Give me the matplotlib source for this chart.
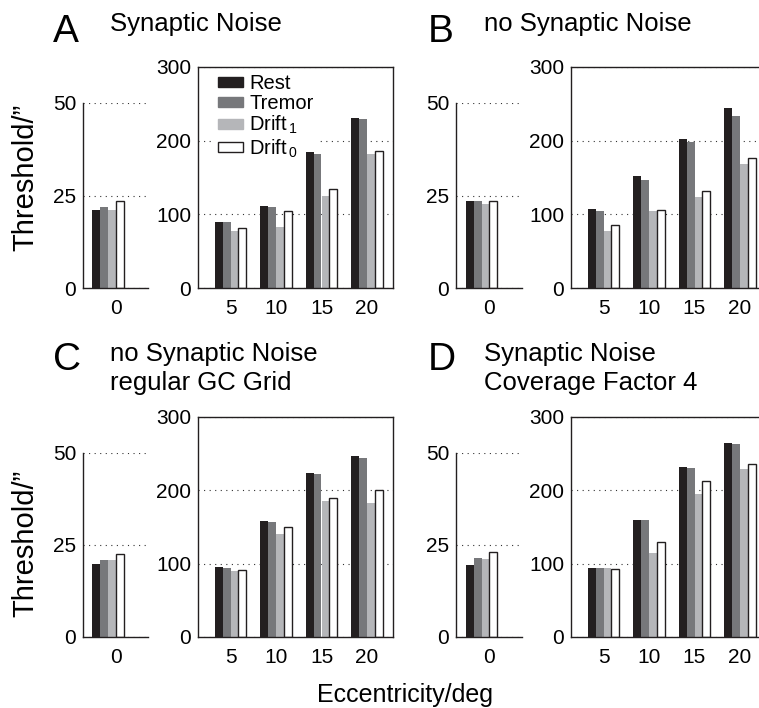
import matplotlib
matplotlib.use("Agg")
import matplotlib.pyplot as plt
from matplotlib.patches import Patch
import numpy as np

plt.rcParams['font.family'] = ['Liberation Sans', 'DejaVu Sans']
plt.rcParams['mathtext.fontset'] = 'custom'
plt.rcParams['mathtext.rm'] = 'Liberation Sans'
plt.rcParams['mathtext.it'] = 'Liberation Sans:italic'
plt.rcParams['mathtext.default'] = 'regular'

# ---------------- data ----------------
series_names = ['Rest', 'Tremor', r'Drift$_{\,1}$', r'Drift$_{\,0}$']
ecc_labels = ['5', '10', '15', '20']
fovea_label = ['0']

A_fovea = [21.0, 21.9, 21.0, 23.4]
A_rest = [89.5, 111, 184.5, 231]
A_tremor = [89.5, 110, 182, 230]
A_drift1 = [78, 83, 125, 182]
A_drift0 = [81, 105, 135, 185.5]

B_fovea = [23.4, 23.4, 22.7, 23.6]
B_rest = [107, 152, 202, 245]
B_tremor = [104, 146, 198, 233]
B_drift1 = [78, 104.5, 123.5, 168]
B_drift0 = [86, 106, 132, 176]

C_fovea = [19.9, 20.9, 20.8, 22.6]
C_rest = [96, 158, 224, 246.5]
C_tremor = [94.2, 156.8, 222.5, 244]
C_drift1 = [90.6, 140.5, 185.8, 183]
C_drift0 = [91, 150.4, 189.9, 200.7]

D_fovea = [19.6, 21.5, 21.2, 23.1]
D_rest = [94.2, 159.5, 231.5, 264]
D_tremor = [94.2, 159.5, 230, 262.7]
D_drift1 = [94.2, 115, 194.8, 229]
D_drift0 = [93.3, 130, 213, 236.5]

panel_letters = ['A', 'B', 'C', 'D']
panel_titles = [['Synaptic Noise'], ['no Synaptic Noise'],
                ['no Synaptic Noise', 'regular GC Grid'],
                ['Synaptic Noise', 'Coverage Factor 4']]
ylabel_text = 'Threshold/\u201d'
xlabel_text = 'Eccentricity/deg'

# ---------------- style ----------------
colors = ['#231f20', '#77787b', '#b5b6b9', 'white']
edges = ['none', 'none', 'none', '#231f20']
W, H = 759, 708
fig = plt.figure(figsize=(W / 100, H / 100), dpi=100)


def rect(left, top, right, bottom):
    return [left / W, 1 - bottom / H, (right - left) / W, (bottom - top) / H]


PX_PER_UNIT = 45.5
bw = 0.174
offsets = (np.arange(4) - 1.5) * bw
TICK_FS = 15
grid_kw = dict(color='#333333', linestyle=(0, (1, 4)), linewidth=0.8)


def style(ax):
    ax.tick_params(length=0, labelsize=TICK_FS)
    ax.tick_params(axis='y', pad=5)
    ax.tick_params(axis='x', pad=8)
    for s in ax.spines.values():
        s.set_linewidth(1.0)
        s.set_color('#231f20')
        s.set_zorder(7)
    ax.set_axisbelow(True)
    ax.yaxis.grid(True, **grid_kw)


def small_axis(pos, fovea):
    ax = fig.add_axes(rect(*pos))
    width_units = (pos[2] - pos[0]) / PX_PER_UNIT
    ax.set_xlim(-width_units / 2, width_units / 2)
    shift = -7.5 / PX_PER_UNIT
    for k in range(4):
        ax.bar(shift + offsets[k], fovea[k], bw, color=colors[k],
               edgecolor=edges[k], linewidth=1.0, zorder=6)
    ax.set_ylim(0, 50)
    ax.set_yticks([0, 25, 50])
    ax.set_xticks([0])
    ax.set_xticklabels(fovea_label)
    ax.spines['top'].set_visible(False)
    ax.spines['right'].set_visible(False)
    style(ax)
    return ax


def big_axis(pos, series):
    ax = fig.add_axes(rect(*pos))
    x = np.arange(1, 5)
    left_units = 1 - 32.5 / PX_PER_UNIT
    ax.set_xlim(left_units, left_units + (pos[2] - pos[0]) / PX_PER_UNIT)
    for k in range(4):
        ax.bar(x + offsets[k], series[k], bw, color=colors[k],
               edgecolor=edges[k], linewidth=1.0, zorder=6)
    ax.set_ylim(0, 300)
    ax.set_yticks([0, 100, 200, 300])
    ax.set_xticks(x)
    ax.set_xticklabels(ecc_labels)
    style(ax)
    return ax


panels = [
    (A_fovea, [A_rest, A_tremor, A_drift1, A_drift0]),
    (B_fovea, [B_rest, B_tremor, B_drift1, B_drift0]),
    (C_fovea, [C_rest, C_tremor, C_drift1, C_drift0]),
    (D_fovea, [D_rest, D_tremor, D_drift1, D_drift0]),
]
small_pos = [(83.3, 103, 148, 288), (456, 103, 522, 288),
             (83.3, 453, 148, 637), (456, 453, 522, 637)]
big_pos = [(198, 67, 393, 288), (571, 67, 766, 288),
           (198, 417, 393, 637), (571, 417, 766, 637)]
letter_pos = [(53, 42), (428, 42), (53, 370), (428, 370)]
title_pos = [(110, [31]), (484, [31]), (110, [360.5, 390]), (484, [360.5, 390])]

big_axes = []
for i, (fov, ser) in enumerate(panels):
    small_axis(small_pos[i], fov)
    big_axes.append(big_axis(big_pos[i], ser))
    lx, ly = letter_pos[i]
    fig.text(lx / W, 1 - ly / H, panel_letters[i], fontsize=28,
             ha='left', va='baseline')
    tx, tys = title_pos[i]
    for line, ty in zip(panel_titles[i], tys):
        fig.text(tx / W, 1 - ty / H, line, fontsize=18.5,
                 ha='left', va='baseline')

# legend in panel A
handles = [Patch(facecolor=colors[k], edgecolor=(edges[k] if edges[k] != 'none' else colors[k]),
                 linewidth=1.0) for k in range(4)]
leg = big_axes[0].legend(handles, series_names, loc='upper left',
                         bbox_to_anchor=((214 - 198) / 195, 1 - 3 / 221),
                         frameon=True, facecolor='white', edgecolor='none',
                         framealpha=1, fancybox=False, borderpad=0.2,
                         handlelength=1.25, handleheight=0.35,
                         handletextpad=0.3, labelspacing=0.05,
                         fontsize=14.5, borderaxespad=0)
leg.set_zorder(5)

fig.text(25 / W, 1 - 177 / H, ylabel_text, rotation=90, fontsize=21,
         ha='center', va='center')
fig.text(25 / W, 1 - 543 / H, ylabel_text, rotation=90, fontsize=21,
         ha='center', va='center')
fig.text(405.5 / W, 1 - 702 / H, xlabel_text, fontsize=18,
         ha='center', va='baseline')

fig.savefig('out.png', dpi=100)
